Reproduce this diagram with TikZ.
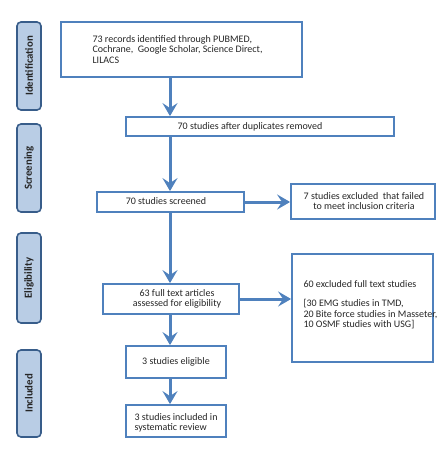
\documentclass[tikz,border=0pt]{standalone}
\usepackage{fontspec}
\setmainfont{Carlito}
\usetikzlibrary{arrows.meta}
\definecolor{boxblue}{HTML}{4F81BD}
\definecolor{sidefill}{HTML}{B9CDE5}
\definecolor{sidedraw}{HTML}{385D8A}
\begin{document}
\begin{tikzpicture}[x=1pt,y=-1pt,
  box/.style={draw=boxblue,line width=1.8pt,fill=white,inner sep=0pt},
  side/.style={draw=sidedraw,line width=1.6pt,fill=sidefill,rounded corners=4pt},
  sidetext/.style={rotate=90,font=\fontsize{10.8}{12}\selectfont\bfseries,text=black!85},
  txt/.style={font=\fontsize{10}{10.5}\selectfont,text=black!85,align=left},
  flow/.style={draw=boxblue,line width=3pt,-{Stealth[length=13pt,width=15pt,inset=5pt]}}]
\useasboundingbox (0,0) rectangle (441,453);
% side labels
\draw[side] (17,22) rectangle (41,110);
\node[sidetext] (sid) at (29,66) {Identification};
\draw[side] (17,124) rectangle (41,212);
\node[sidetext] (ssc) at (29,168) {Screening};
\draw[side] (17,233) rectangle (41,323);
\node[sidetext] (sel) at (29,278) {Eligibility};
\draw[side] (17,350) rectangle (41,437);
\node[sidetext] (sin) at (29,393.5) {Included};
% boxes
\node[box,minimum width=241pt,minimum height=55pt] (b1) at (181.5,49.5) {};
\node[txt,anchor=north west] (t1) at (89,32) {73 records identified through PUBMED,\\Cochrane,\ \ Google Scholar, Science Direct,\\LILACS};
\node[box,minimum width=268pt,minimum height=19pt] (b2) at (260,126.5) {};
\node[txt] (t2) at (250,127) {70 studies after duplicates removed};
\node[box,minimum width=147pt,minimum height=20pt] (b3) at (170.5,202) {};
\node[txt] (t3) at (166,201) {70 studies screened};
\node[box,minimum width=144pt,minimum height=35pt] (b4) at (363,201.5) {};
\node[txt,align=center] (t4) at (364,201) {7 studies excluded\ \ that failed\\to meet inclusion criteria};
\node[box,minimum width=136pt,minimum height=30pt] (b5) at (171,299) {};
\node[txt,align=center] (t5) at (177,299) {63 full text articles\\assessed for eligibility};
\node[box,minimum width=141pt,minimum height=108pt] (b6) at (362.5,308) {};
\node[txt,anchor=north west] (t6) at (300,277) {60 excluded full text studies\\[9pt][30 EMG studies in TMD,\\20 Bite force studies in Masseter,\\10 OSMF studies with USG]};
\node[box,minimum width=100pt,minimum height=32pt] (b7) at (176,362) {};
\node[txt] (t7) at (176,362) {3 studies eligible};
\node[box,minimum width=100pt,minimum height=32pt] (b8) at (176,421) {};
\node[txt,anchor=north west] (t8) at (131,410) {3 studies included in\\systematic review};
% arrows
\draw[flow] (b1.south -| 170,0) -- (b2.north -| 170,0);
\draw[flow] (b2.south -| 170,0) -- (b3.north -| 170,0);
\draw[flow] (b3.south -| 170,0) -- (b5.north -| 170,0);
\draw[flow] (b5.south -| 170,0) -- (b7.north -| 170,0);
\draw[flow] (b7.south -| 170,0) -- (b8.north -| 170,0);
\draw[flow] (b3.east |- 0,202) -- (b4.west |- 0,202);
\draw[flow] (b5.east |- 0,299) -- (b6.west |- 0,299);
\end{tikzpicture}
\end{document}
